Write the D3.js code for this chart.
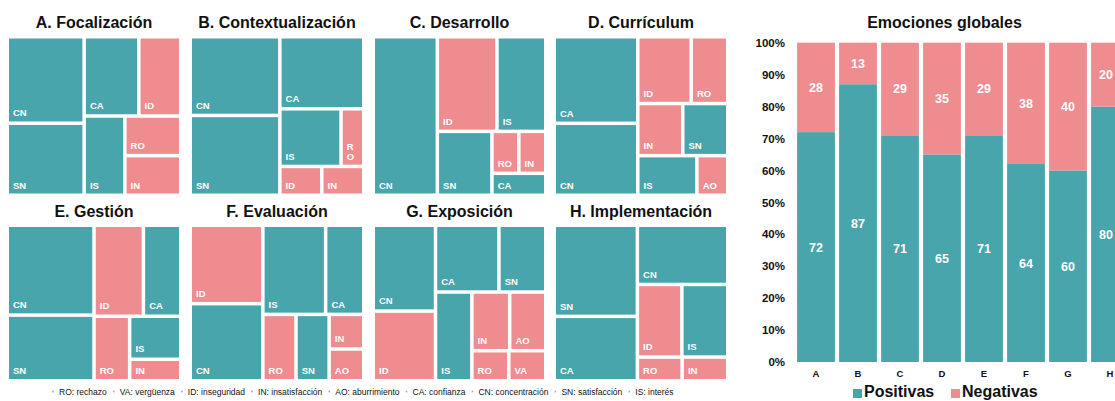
<!DOCTYPE html>
<html><head><meta charset="utf-8">
<script src="https://cdn.jsdelivr.net/npm/d3@7"></script>
<style>
html,body{margin:0;padding:0;background:#fff;overflow:hidden}
svg{display:block;font-family:"Liberation Sans",Arial,Helvetica,sans-serif}
</style></head><body>
<svg id="chart" width="1115" height="401"></svg>
<script>
const TEAL = "#47A5AB", PINK = "#EF8C8F";
const negativeCodes = ["RO","VA","ID","IN","AO"];

const panelTitles = ["A. Focalización","B. Contextualización","C. Desarrollo","D. Currículum",
                     "E. Gestión","F. Evaluación","G. Exposición","H. Implementación"];

// Treemap values (codes, values, grouping of tiles)
const codesA = ["CN","SN","CA","ID","IS","RO","IN"];
const valuesA = [66,55,43,33,32,22,22];
const groupsA = [["CN","SN"],[["CA","ID"],["IS",["RO","IN"]]]];

const codesB = ["CN","SN","CA","IS","RO","ID","IN"];
const valuesB = [70,71,60,35,13,12,12];
const groupsB = [["CN","SN"],["CA",["IS","RO"],["ID","IN"]]];

const codesC = ["CN","ID","IS","SN","RO","IN","CA"];
const valuesC = [99,55,45,34,11,11,11.5];
const groupsC = ["CN",[["ID","IS"],["SN",[["RO","IN"],"CA"]]]];

const codesD = ["CA","CN","ID","RO","IN","SN","IS","AO"];
const valuesD = [71,59,35,24,23,23,23,12];
const groupsD = [["CA","CN"],[["ID","RO"],["IN","SN"],["IS","AO"]]];

const codesE = ["CN","SN","ID","CA","RO","IS","IN"];
const valuesE = [78,57,45,34,23,22,11];
const groupsE = [["CN","SN"],[["ID","CA"],["RO",["IS","IN"]]]];

const codesF = ["ID","CN","IS","CA","RO","SN","IN","AO"];
const valuesF = [57,56,56,34,22,22,12,11];
const groupsF = [["ID","CN"],[["IS","CA"],["RO","SN",["IN","AO"]]]];

const codesG = ["CN","ID","CA","SN","IS","IN","AO","RO","VA"];
const valuesG = [53,43,42,31,32,22,21,11,11];
const groupsG = [["CN","ID"],[["CA","SN"],["IS",[["IN","AO"],["RO","VA"]]]]];

const codesH = ["SN","CA","CN","ID","IS","RO","IN"];
const valuesH = [75,53,53,32,33,10.5,10.7];
const groupsH = [["SN","CA"],["CN",["ID","IS"],["RO","IN"]]];

const legendCodes = ["RO","VA","ID","IN","AO","CA","CN","SN","IS"];
const legendNames = ["rechazo","vergüenza","inseguridad","insatisfacción","aburrimiento","confianza","concentración","satisfacción","interés"];

// Bar chart data
const barCategories = ["A","B","C","D","E","F","G","H"];
const positivas = [72,87,71,65,71,62,60,80];
const negativas = [28,13,29,35,29,38,40,20];
const positivasText = ["72","87","71","65","71","64","60","80"];
const negativasText = ["28","13","29","35","29","38","40","20"];
const yTicks = [0,10,20,30,40,50,60,70,80,90,100];
const seriesNames = ["Positivas","Negativas"];

const W = 1115;
const svg = d3.select("#chart");

const panels = [
  [codesA, valuesA, groupsA],[codesB, valuesB, groupsB],[codesC, valuesC, groupsC],[codesD, valuesD, groupsD],
  [codesE, valuesE, groupsE],[codesF, valuesF, groupsF],[codesG, valuesG, groupsG],[codesH, valuesH, groupsH]
];
const colX = [9,192,375,556], colW = [170,170,169,170];
const rowY = [38.5,227], rowH = [155,152];
const titleY = [27.5,216.5];

panels.forEach(([codes, values, groups], i) => {
  const c = i % 4, r = Math.floor(i / 4);
  const valueOf = new Map(codes.map((k, j) => [k, values[j]]));
  const build = s => Array.isArray(s) ? {children: s.map(build)} : {name: s, value: valueOf.get(s)};
  const root = d3.hierarchy(build(groups)).sum(d => d.value || 0);
  d3.treemap().tile(d3.treemapSliceDice).size([colW[c], rowH[r]]).paddingInner(3.5)(root);
  const g = svg.append("g").attr("transform", `translate(${colX[c]},${rowY[r]})`);
  const leaves = g.selectAll("g.leaf").data(root.leaves()).join("g").attr("class","leaf");
  leaves.append("rect")
    .attr("x", d => d.x0).attr("y", d => d.y0)
    .attr("width", d => d.x1 - d.x0).attr("height", d => d.y1 - d.y0)
    .attr("fill", d => negativeCodes.includes(d.data.name) ? PINK : TEAL);
  leaves.each(function(d) {
    const sel = d3.select(this);
    const t = sel.append("text").attr("x", d.x0 + 4).attr("y", d.y1 - 5)
      .attr("fill", "#fff").attr("font-weight", "bold").attr("font-size", 9.5).text(d.data.name);
    const w = t.node().getComputedTextLength();
    if (w + 5 > d.x1 - d.x0) {
      t.text(null);
      const chars = d.data.name.split("");
      chars.forEach((ch, k) => {
        t.append("tspan").attr("x", d.x0 + 4).attr("y", d.y1 - 5 - (chars.length - 1 - k) * 10).text(ch);
      });
    }
  });
  svg.append("text").attr("x", colX[c] + colW[c] / 2).attr("y", titleY[r])
    .attr("text-anchor", "middle").attr("font-weight", "bold").attr("font-size", 16)
    .attr("fill", "#111").text(panelTitles[i]);
});

// Legend of codes
{
  let x = 53;
  const lg = svg.append("g");
  legendCodes.forEach((code, i) => {
    lg.append("circle").attr("cx", x).attr("cy", 391.5).attr("r", 0.9).attr("fill", "#aaa");
    const t = lg.append("text").attr("x", x + 6).attr("y", 394.5).attr("font-size", 8.5)
      .attr("fill", "#111").text(code + ": " + legendNames[i]);
    x = x + 6 + t.node().getComputedTextLength() + 7;
  });
}

// Bar chart
const rows = barCategories.map((k, i) => ({cat: k, pos: positivas[i], neg: negativas[i], i}));
const x = d3.scaleBand().domain(barCategories).range([795, 1131]).paddingInner(0.1).paddingOuter(0.05);
const y = d3.scaleLinear().domain([0, 100]).range([362, 42.7]);
const stack = d3.stack().keys(["pos","neg"])(rows);
const colors = {pos: TEAL, neg: PINK};

const bg = svg.append("g");
stack.forEach(layer => {
  bg.append("g").selectAll("rect").data(layer).join("rect")
    .attr("x", d => x(d.data.cat)).attr("width", x.bandwidth())
    .attr("y", d => y(d[1])).attr("height", d => y(d[0]) - y(d[1]))
    .attr("fill", colors[layer.key]);
  bg.append("g").selectAll("text").data(layer).join("text")
    .attr("x", d => x(d.data.cat) + x.bandwidth() / 2)
    .attr("y", d => y((d[0] + d[1]) / 2)).attr("dy", "0.36em")
    .attr("text-anchor", "middle").attr("fill", "#fff").attr("font-weight", "bold").attr("font-size", 12.5)
    .text(d => layer.key === "pos" ? positivasText[d.data.i] : negativasText[d.data.i])
    .each(function() {
      // keep labels of the bar cut by the right edge readable
      const b = this.getBBox();
      if (b.x + b.width > W - 2) d3.select(this).attr("x", +d3.select(this).attr("x") - (b.x + b.width - (W - 2)));
    });
});

const yAxis = svg.append("g").attr("transform", "translate(797,0)")
  .call(d3.axisLeft(y).tickValues(yTicks).tickFormat(d => d + "%").tickSize(0).tickPadding(12));
yAxis.select(".domain").remove();
yAxis.selectAll("text").attr("font-size", 11.5).attr("font-weight", "bold").attr("fill", "#111")
  .attr("font-family", "Liberation Sans, Arial, sans-serif");

const xAxis = svg.append("g").attr("transform", "translate(0,362)")
  .call(d3.axisBottom(x).tickSize(0).tickPadding(8.5));
xAxis.select(".domain").remove();
xAxis.selectAll("text").attr("font-size", 9.5).attr("font-weight", "bold").attr("fill", "#111")
  .attr("font-family", "Liberation Sans, Arial, sans-serif");

svg.append("text").attr("x", 944.5).attr("y", 27.5).attr("text-anchor", "middle")
  .attr("font-weight", "bold").attr("font-size", 16).attr("fill", "#111").text("Emociones globales");

// Series legend
const legendX = [853, 951];
seriesNames.forEach((name, i) => {
  svg.append("rect").attr("x", legendX[i]).attr("y", 389).attr("width", 9).attr("height", 9)
    .attr("fill", i === 0 ? TEAL : PINK);
  svg.append("text").attr("x", legendX[i] + 11).attr("y", 397).attr("font-weight", "bold")
    .attr("font-size", 16).attr("fill", "#111").text(name);
});
</script>
</body></html>
